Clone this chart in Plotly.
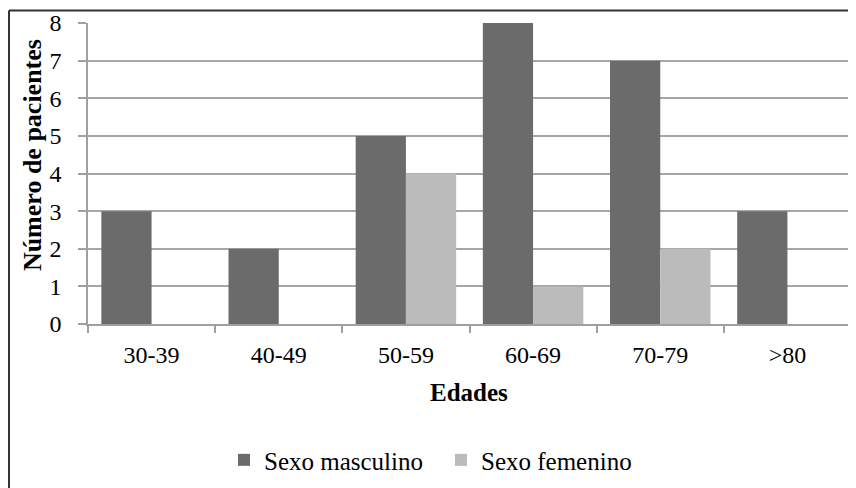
import plotly.graph_objects as go

categories = ["30-39", "40-49", "50-59", "60-69", "70-79", ">80"]
masculino = [3, 2, 5, 8, 7, 3]
femenino = [0, 0, 4, 1, 2, 0]
y_ticks = [0, 1, 2, 3, 4, 5, 6, 7, 8]

FONT = "Liberation Serif"
OFF = 8  # page offset of the figure (body margin)
W, H = 848, 480
L, R, T, B = 80, 5, 15, 162
pw = W - L - R
ph = H - T - B

def px_x(x):
    return (x - OFF - L) / pw

def px_y(y):
    return (H - B - (y - OFF)) / ph

fig = go.Figure()
fig.add_trace(go.Bar(x=categories, y=masculino, name="Sexo masculino",
                     marker=dict(color="#6b6b6b", line=dict(width=0))))
fig.add_trace(go.Bar(x=categories, y=femenino, name="Sexo femenino",
                     marker=dict(color="#bbbbbb", line=dict(width=0))))

fig.update_layout(
    width=W, height=H,
    margin=dict(l=L, r=R, t=T, b=B, pad=0),
    paper_bgcolor="white", plot_bgcolor="white",
    barmode="group", bargap=0.21, bargroupgap=0,
    font=dict(family=FONT, size=24, color="#000000"),
    showlegend=True,
    legend=dict(orientation="h", x=px_x(441), y=px_y(463), xanchor="center", yanchor="middle",
                font=dict(family=FONT, size=25), traceorder="normal",
                itemwidth=30, entrywidth=172, bgcolor="rgba(0,0,0,0)"),
    xaxis=dict(type="category", showline=True, linecolor="#a0a0a0", linewidth=1.5,
               ticks="outside", tickson="boundaries", ticklen=7, tickcolor="#a0a0a0", tickwidth=1.5,
               showgrid=False, tickfont=dict(family=FONT, size=24), automargin=False,
               ticklabelstandoff=8),
    yaxis=dict(range=[0, 8], tickvals=y_ticks, showline=True, linecolor="#a0a0a0", linewidth=1.5,
               ticks="outside", ticklen=8, tickcolor="#a0a0a0", tickwidth=1.5,
               showgrid=True, gridcolor="#a6a6a6", gridwidth=1.5, zeroline=False,
               tickfont=dict(family=FONT, size=24), automargin=False,
               ticklabelstandoff=12),
    annotations=[
        dict(text="<b>Edades</b>", xref="paper", yref="paper", x=px_x(469), y=px_y(395),
             xanchor="center", yanchor="middle", showarrow=False, font=dict(family=FONT, size=25)),
        dict(text="<b>Número de pacientes</b>", xref="paper", yref="paper", x=px_x(32), y=px_y(156),
             xanchor="center", yanchor="middle", textangle=-90, showarrow=False,
             font=dict(family=FONT, size=26)),
    ],
    shapes=[
        dict(type="line", xref="paper", yref="paper", x0=px_x(9), x1=px_x(870), y0=px_y(10.5), y1=px_y(10.5),
             line=dict(color="#333333", width=2)),
        dict(type="line", xref="paper", yref="paper", x0=px_x(9), x1=px_x(9), y0=px_y(10.5), y1=px_y(500),
             line=dict(color="#333333", width=2)),
    ],
)

fig.write_html("out.html")
